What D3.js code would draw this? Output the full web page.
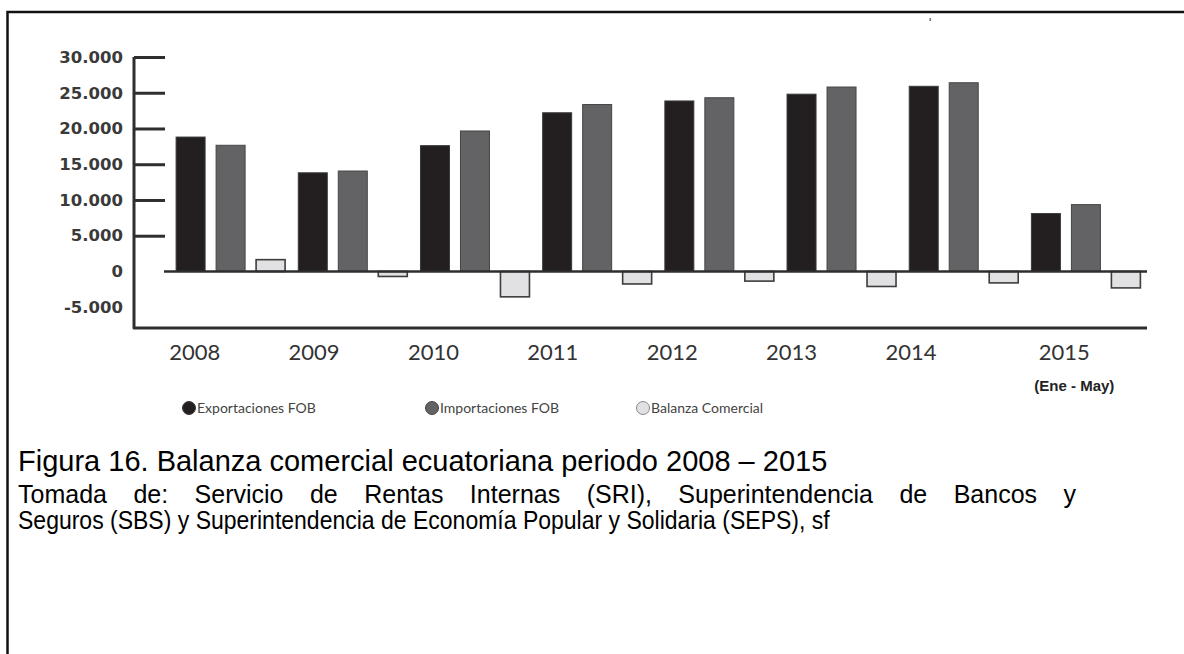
<!DOCTYPE html>
<html>
<head>
<meta charset="utf-8">
<script src="https://cdn.jsdelivr.net/npm/d3@7"></script>
<style>
  body { margin: 0; background: #fff; }
  svg { display: block; }
</style>
</head>
<body>
<div id="chart"></div>
<script>
// data (millones USD)
const years = ["2008", "2009", "2010", "2011", "2012", "2013", "2014", "2015"];
const seriesNames = ["Exportaciones FOB", "Importaciones FOB", "Balanza Comercial"];
const exportaciones = [18800, 13800, 17600, 22200, 23850, 24800, 25900, 8100];
const importaciones = [17650, 14050, 19650, 23350, 24300, 25800, 26400, 9350];
const balanza = [1650, -700, -3550, -1750, -1350, -2100, -1600, -2300];
const yTicks = [-5000, 0, 5000, 10000, 15000, 20000, 25000, 30000];
const captionLines = [
  "Figura 16. Balanza comercial ecuatoriana periodo 2008 – 2015",
  "Tomada de: Servicio de Rentas Internas (SRI), Superintendencia de Bancos y",
  "Seguros (SBS) y Superintendencia de Economía Popular y Solidaria (SEPS), sf"
];

const width = 1184;
const height = 654;

const svg = d3.select("#chart")
  .append("svg")
  .attr("width", width)
  .attr("height", height);

// page frame (left and top rule of the document box)
svg.append("path")
  .attr("d", "M7.5,654 V12 H1184")
  .attr("fill", "none")
  .attr("stroke", "#111")
  .attr("stroke-width", 2.5);

// little speck near the top
svg.append("rect")
  .attr("x", 929.5).attr("y", 18).attr("width", 1.5).attr("height", 3)
  .attr("fill", "#777");

const colors = {
  "Exportaciones FOB": { fill: "#231f20", stroke: "#3a3a3a" },
  "Importaciones FOB": { fill: "#636365", stroke: "#454545" },
  "Balanza Comercial": { fill: "#e1e1e3", stroke: "#3d3d3d" }
};

const y = d3.scaleLinear()
  .domain([-5000, 30000])
  .range([307.2, 57]);

const x = d3.scaleBand()
  .domain(years)
  .range([169.5, 1147])
  .paddingInner(0)
  .paddingOuter(0);

const xInner = d3.scaleBand()
  .domain(seriesNames)
  .range([0, x.bandwidth()])
  .paddingInner(0.275)
  .paddingOuter(0.165);

const rows = years.map((yr, i) => ({
  year: yr,
  values: [
    { name: seriesNames[0], value: exportaciones[i] },
    { name: seriesNames[1], value: importaciones[i] },
    { name: seriesNames[2], value: balanza[i] }
  ]
}));

// y axis: ticks go to the right, labels on the left
const fmt = d3.format(",");
const yAxis = d3.axisLeft(y)
  .tickValues(yTicks)
  .tickSize(-31)
  .tickPadding(11)
  .tickFormat(d => fmt(d).replace(/,/g, ".").replace("\u2212", "-"));

const gy = svg.append("g")
  .attr("transform", "translate(134,0)")
  .call(yAxis);

gy.select(".domain").remove();
gy.selectAll(".tick line")
  .attr("stroke", "#2e2e2e")
  .attr("stroke-width", 3)
  .attr("display", d => d <= 0 ? "none" : null);
gy.selectAll(".tick text")
  .attr("fill", "#3a3a3a")
  .style("font-family", "'DejaVu Sans', sans-serif")
  .style("font-weight", "bold")
  .style("font-size", "16.5px");

// axis frame: left line and bottom line
svg.append("path")
  .attr("d", `M134,${y(30000)} V328 H${x.range()[1]}`)
  .attr("fill", "none")
  .attr("stroke", "#2e2e2e")
  .attr("stroke-width", 3)
  .attr("stroke-linejoin", "round");

// bars
const groups = svg.append("g")
  .selectAll("g")
  .data(rows)
  .join("g")
  .attr("transform", d => `translate(${x(d.year)},0)`);

groups.selectAll("rect")
  .data(d => d.values)
  .join("rect")
  .attr("x", d => xInner(d.name))
  .attr("width", xInner.bandwidth())
  .attr("y", d => y(Math.max(0, d.value)))
  .attr("height", d => Math.abs(y(d.value) - y(0)))
  .attr("fill", d => colors[d.name].fill)
  .attr("stroke", d => colors[d.name].stroke)
  .attr("stroke-width", d => d.name === "Balanza Comercial" ? 1.6 : 1);

// zero line
svg.append("line")
  .attr("x1", 164)
  .attr("x2", x.range()[1])
  .attr("y1", y(0))
  .attr("y2", y(0))
  .attr("stroke", "#2e2e2e")
  .attr("stroke-width", 2.5);

// year labels (sit a bit left of each group, as in the original)
const xLabel = d3.scaleBand()
  .domain(years)
  .range([135, 1090]);

svg.append("g")
  .selectAll("text")
  .data(years)
  .join("text")
  .attr("x", d => xLabel(d) + xLabel.bandwidth() / 2 + (d === "2015" ? 34 : 0))
  .attr("y", 360)
  .attr("text-anchor", "middle")
  .attr("fill", "#333")
  .style("font-family", "Lato, sans-serif")
  .style("font-size", "22px")
  .text(d => d);

svg.append("text")
  .attr("x", xLabel("2015") + xLabel.bandwidth() / 2 + 44)
  .attr("y", 391)
  .attr("text-anchor", "middle")
  .attr("fill", "#222")
  .style("font-family", "'Liberation Sans', Arial, sans-serif")
  .style("font-weight", "bold")
  .style("font-size", "15px")
  .text("(Ene - May)");

// legend
const legendX = d3.scaleOrdinal()
  .domain(seriesNames)
  .range([189, 432, 643]);

const legend = svg.append("g")
  .selectAll("g")
  .data(seriesNames)
  .join("g")
  .attr("transform", d => `translate(${legendX(d)},408)`);

legend.append("circle")
  .attr("r", 6.5)
  .attr("fill", d => colors[d].fill)
  .attr("stroke", d => d === "Balanza Comercial" ? "#888" : colors[d].stroke)
  .attr("stroke-width", 1);

legend.append("text")
  .attr("x", 8)
  .attr("y", 5)
  .attr("fill", "#444")
  .style("font-family", "Lato, sans-serif")
  .style("font-size", "14px")
  .text(d => d);

// caption
const caption = svg.append("g")
  .style("font-family", "'Liberation Sans', Arial, sans-serif")
  .attr("fill", "#000");

caption.append("text")
  .attr("x", 18).attr("y", 471)
  .style("font-size", "29px")
  .text(captionLines[0]);

// line 2 is justified to the right margin, line 3 is a bit condensed
const line2 = caption.append("text")
  .attr("x", 18).attr("y", 503)
  .style("font-size", "25px")
  .text(captionLines[1]);
const natural = line2.node().getComputedTextLength();
const spaces = captionLines[1].split(" ").length - 1;
line2.style("word-spacing", ((1058 - natural) / spaces) + "px");

caption.append("text")
  .attr("transform", "translate(18,529) scale(0.92,1)")
  .style("font-size", "25px")
  .text(captionLines[2]);
</script>
</body>
</html>
